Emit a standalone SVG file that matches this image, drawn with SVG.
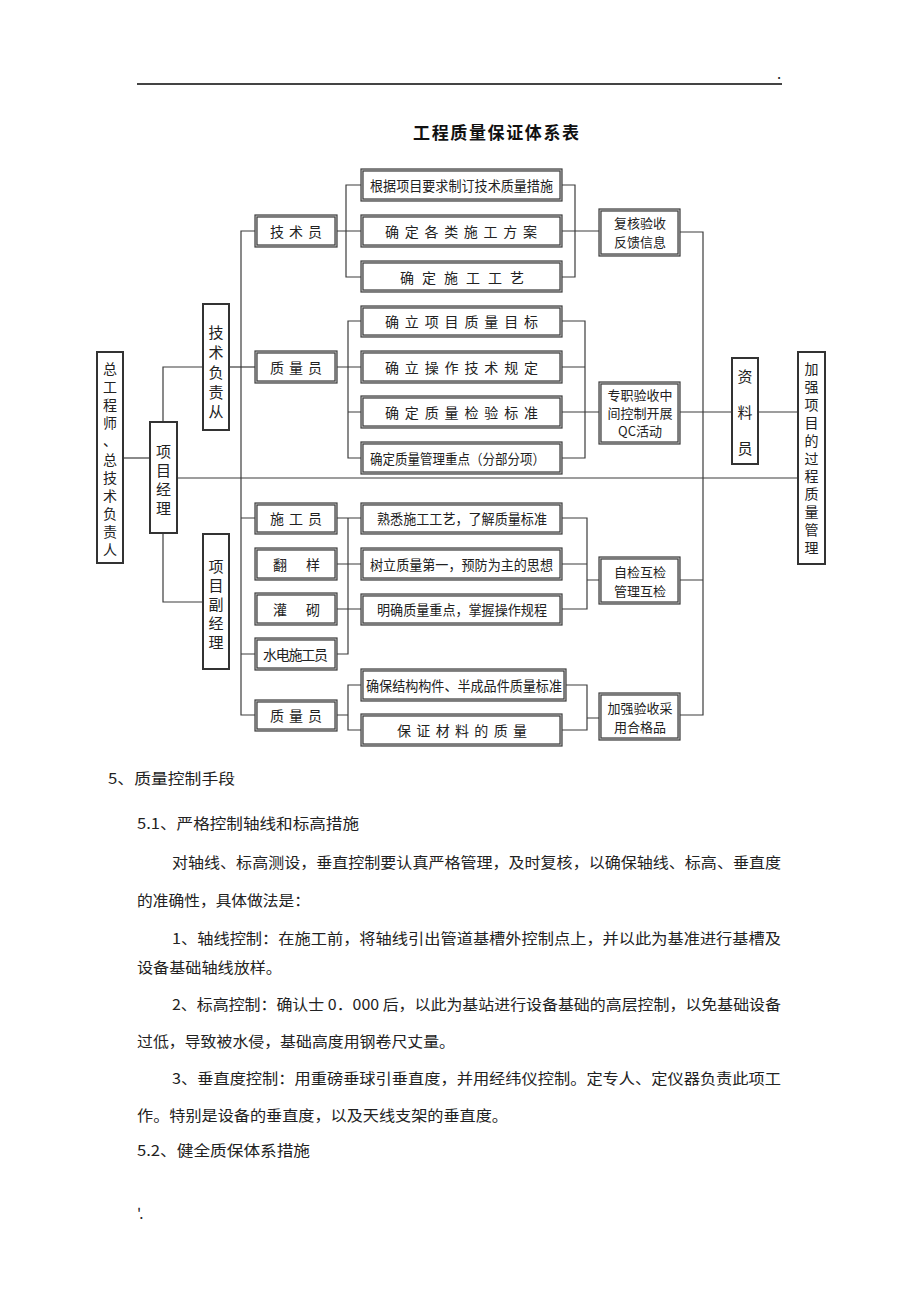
<svg xmlns="http://www.w3.org/2000/svg" width="920" height="1302" viewBox="0 0 920 1302">
<style>
.bx{fill:#fff;stroke:#3a3a3a;stroke-width:3.2}
.bi{fill:none;stroke:#c8c8c8;stroke-width:0.9}
.vb{fill:#fff;stroke:#333;stroke-width:2}
.ln{fill:none;stroke:#3c3c3c;stroke-width:1.2}
.t{font-family:"Noto Sans CJK SC","Noto Sans",sans-serif;font-size:14px;fill:#222;dominant-baseline:central}
.ts{font-family:"Noto Sans CJK SC","Noto Sans",sans-serif;font-size:13px;fill:#222;dominant-baseline:central;text-anchor:middle}
.tv{font-family:"Noto Sans CJK SC","Noto Sans",sans-serif;font-size:15px;fill:#222;dominant-baseline:central;text-anchor:middle}
.tv2{font-family:"Noto Sans CJK SC","Noto Sans",sans-serif;font-size:14px;fill:#222;dominant-baseline:central;text-anchor:middle}
.p{font-family:"Noto Sans CJK SC","Noto Sans",sans-serif;font-size:15px;fill:#222}
</style>
<rect width="920" height="1302" fill="#fff"/>
<line x1="137" y1="84" x2="782" y2="84" stroke="#444" stroke-width="1.8"/>
<text x="777" y="79" class="p" font-size="12">.</text>
<text x="496" y="131" font-family="Noto Sans CJK SC,sans-serif" font-size="17" font-weight="bold" fill="#111" text-anchor="middle" dominant-baseline="central" textLength="166" lengthAdjust="spacing">工程质量保证体系表</text>

<g id="connectors">
<path class="ln" d="M123 458H150"/>
<path class="ln" d="M163 422V367H203"/>
<path class="ln" d="M163 533V602H203"/>
<path class="ln" d="M177 478H798"/>
<path class="ln" d="M229 367H256"/>
<path class="ln" d="M256 231H241V715H256"/>
<path class="ln" d="M241 518H256M241 654H256"/>
<path class="ln" d="M336 231H362M362 185H346V277H362"/>
<path class="ln" d="M336 367H362M362 321H348V458H362M348 412H362"/>
<path class="ln" d="M336 518H362M336 564H362M336 609H362M336 654H348V518"/>
<path class="ln" d="M336 715H348M362 685H348V730H362"/>
<path class="ln" d="M561 185H575V277H561M561 231H600"/>
<path class="ln" d="M561 321H585V458H561M561 367H585M561 412H600"/>
<path class="ln" d="M561 518H587V609H561M561 564H587M587 580H600"/>
<path class="ln" d="M565 685H587V730H561M587 718H600"/>
<path class="ln" d="M679 232H703V715H679M679 412H732M679 580H703"/>
<path class="ln" d="M758 412H798"/>
</g>

<g id="n-zgcs"><rect class="vb" x="97" y="352" width="26" height="211"/>
<text class="tv2"><tspan x="110" y="368">总</tspan><tspan x="110" y="386">工</tspan><tspan x="110" y="404">程</tspan><tspan x="110" y="422">师</tspan><tspan x="110" y="440">、</tspan><tspan x="110" y="459">总</tspan><tspan x="110" y="477">技</tspan><tspan x="110" y="495">术</tspan><tspan x="110" y="513">负</tspan><tspan x="110" y="531">责</tspan><tspan x="110" y="549">人</tspan></text></g>
<g id="n-xmjl"><rect class="vb" x="150" y="422" width="27" height="111"/>
<text class="tv"><tspan x="163.5" y="450">项</tspan><tspan x="163.5" y="469">目</tspan><tspan x="163.5" y="488">经</tspan><tspan x="163.5" y="507">理</tspan></text></g>
<g id="n-jsfz"><rect class="vb" x="203" y="304" width="26" height="126"/>
<text class="tv"><tspan x="216" y="331">技</tspan><tspan x="216" y="351">术</tspan><tspan x="216" y="371">负</tspan><tspan x="216" y="391">责</tspan><tspan x="216" y="410">从</tspan></text></g>
<g id="n-xmfjl"><rect class="vb" x="203" y="534" width="26" height="135"/>
<text class="tv"><tspan x="216" y="565">项</tspan><tspan x="216" y="584">目</tspan><tspan x="216" y="603">副</tspan><tspan x="216" y="622">经</tspan><tspan x="216" y="641">理</tspan></text></g>

<g id="n-jsy"><rect class="bx" x="256" y="216" width="80" height="30"/><rect class="bi" x="256" y="216" width="80" height="30"/><text class="t" x="270" y="231" textLength="52" lengthAdjust="spacing">技术员</text></g>
<g id="n-zly1"><rect class="bx" x="256" y="352" width="80" height="30"/><rect class="bi" x="256" y="352" width="80" height="30"/><text class="t" x="270" y="367" textLength="52" lengthAdjust="spacing">质量员</text></g>
<g id="n-sgy"><rect class="bx" x="256" y="504" width="80" height="29"/><rect class="bi" x="256" y="504" width="80" height="29"/><text class="t" x="270" y="518" textLength="52" lengthAdjust="spacing">施工员</text></g>
<g id="n-fy"><rect class="bx" x="256" y="549" width="80" height="30"/><rect class="bi" x="256" y="549" width="80" height="30"/><text class="t" x="273" y="564" textLength="47" lengthAdjust="spacing">翻样</text></g>
<g id="n-gq"><rect class="bx" x="256" y="594" width="80" height="30"/><rect class="bi" x="256" y="594" width="80" height="30"/><text class="t" x="273" y="609" textLength="47" lengthAdjust="spacing">灌砌</text></g>
<g id="n-sdsgy"><rect class="bx" x="256" y="639" width="80" height="30"/><rect class="bi" x="256" y="639" width="80" height="30"/><text class="t" x="263" y="654" textLength="65" lengthAdjust="spacing">水电施工员</text></g>
<g id="n-zly2"><rect class="bx" x="256" y="701" width="80" height="29"/><rect class="bi" x="256" y="701" width="80" height="29"/><text class="t" x="270" y="715" textLength="52" lengthAdjust="spacing">质量员</text></g>

<g id="n-c1"><rect class="bx" x="362" y="170" width="199" height="30"/><rect class="bi" x="362" y="170" width="199" height="30"/><text class="t" x="370" y="185" textLength="183" lengthAdjust="spacingAndGlyphs">根据项目要求制订技术质量措施</text></g>
<g id="n-c2"><rect class="bx" x="362" y="216" width="199" height="30"/><rect class="bi" x="362" y="216" width="199" height="30"/><text class="t" x="385" y="231" textLength="152" lengthAdjust="spacing">确定各类施工方案</text></g>
<g id="n-c3"><rect class="bx" x="362" y="262" width="199" height="29"/><rect class="bi" x="362" y="262" width="199" height="29"/><text class="t" x="400" y="277" textLength="124" lengthAdjust="spacing">确定施工工艺</text></g>
<g id="n-c4"><rect class="bx" x="362" y="307" width="199" height="29"/><rect class="bi" x="362" y="307" width="199" height="29"/><text class="t" x="385" y="321" textLength="153" lengthAdjust="spacing">确立项目质量目标</text></g>
<g id="n-c5"><rect class="bx" x="362" y="352" width="199" height="30"/><rect class="bi" x="362" y="352" width="199" height="30"/><text class="t" x="385" y="367" textLength="153" lengthAdjust="spacing">确立操作技术规定</text></g>
<g id="n-c6"><rect class="bx" x="362" y="397" width="199" height="30"/><rect class="bi" x="362" y="397" width="199" height="30"/><text class="t" x="385" y="412" textLength="153" lengthAdjust="spacing">确定质量检验标准</text></g>
<g id="n-c7"><rect class="bx" x="362" y="443" width="199" height="30"/><rect class="bi" x="362" y="443" width="199" height="30"/><text class="t" x="370" y="458" textLength="175" lengthAdjust="spacingAndGlyphs">确定质量管理重点（分部分项）</text></g>
<g id="n-c8"><rect class="bx" x="362" y="504" width="199" height="29"/><rect class="bi" x="362" y="504" width="199" height="29"/><text class="t" x="377" y="518" textLength="170" lengthAdjust="spacingAndGlyphs">熟悉施工工艺，了解质量标准</text></g>
<g id="n-c9"><rect class="bx" x="362" y="549" width="199" height="30"/><rect class="bi" x="362" y="549" width="199" height="30"/><text class="t" x="370" y="564" textLength="183" lengthAdjust="spacingAndGlyphs">树立质量第一，预防为主的思想</text></g>
<g id="n-c10"><rect class="bx" x="362" y="595" width="199" height="29"/><rect class="bi" x="362" y="595" width="199" height="29"/><text class="t" x="377" y="609" textLength="170" lengthAdjust="spacingAndGlyphs">明确质量重点，掌握操作规程</text></g>
<g id="n-c11"><rect class="bx" x="362" y="670" width="203" height="30"/><rect class="bi" x="362" y="670" width="203" height="30"/><text class="t" x="366" y="685" textLength="196" lengthAdjust="spacingAndGlyphs">确保结构构件、半成品件质量标准</text></g>
<g id="n-c12"><rect class="bx" x="362" y="715" width="199" height="30"/><rect class="bi" x="362" y="715" width="199" height="30"/><text class="t" x="397" y="730" textLength="130" lengthAdjust="spacing">保证材料的质量</text></g>

<g id="n-fh"><rect class="bx" x="600" y="210" width="79" height="45"/><rect class="bi" x="600" y="210" width="79" height="45"/><text class="ts" x="640" y="222">复核验收</text><text class="ts" x="640" y="241">反馈信息</text></g>
<g id="n-zz"><rect class="bx" x="600" y="383" width="79" height="60"/><rect class="bi" x="600" y="383" width="79" height="60"/><text class="ts" x="640" y="394">专职验收中</text><text class="ts" x="640" y="412">间控制开展</text><text class="ts" x="640" y="430">QC活动</text></g>
<g id="n-zj"><rect class="bx" x="600" y="558" width="79" height="45"/><rect class="bi" x="600" y="558" width="79" height="45"/><text class="ts" x="640" y="571">自检互检</text><text class="ts" x="640" y="590">管理互检</text></g>
<g id="n-jq"><rect class="bx" x="600" y="694" width="79" height="45"/><rect class="bi" x="600" y="694" width="79" height="45"/><text class="ts" x="640" y="707">加强验收采</text><text class="ts" x="640" y="726">用合格品</text></g>

<g id="n-zly"><rect class="vb" x="732" y="358" width="26" height="106"/>
<text class="tv"><tspan x="745" y="375">资</tspan><tspan x="745" y="411">料</tspan><tspan x="745" y="447">员</tspan></text></g>
<g id="n-jqxm"><rect class="vb" x="798" y="352" width="27" height="212"/>
<text class="tv2"><tspan x="811.5" y="368">加</tspan><tspan x="811.5" y="385.9">强</tspan><tspan x="811.5" y="403.8">项</tspan><tspan x="811.5" y="421.7">目</tspan><tspan x="811.5" y="439.6">的</tspan><tspan x="811.5" y="457.5">过</tspan><tspan x="811.5" y="475.4">程</tspan><tspan x="811.5" y="493.3">质</tspan><tspan x="811.5" y="511.2">量</tspan><tspan x="811.5" y="529.1">管</tspan><tspan x="811.5" y="547">理</tspan></text></g>

<g id="body">
<text class="p" x="108" y="784" font-size="17" textLength="127" lengthAdjust="spacingAndGlyphs">5、质量控制手段</text>
<text class="p" x="137" y="829" textLength="222" lengthAdjust="spacingAndGlyphs">5.1、严格控制轴线和标高措施</text>
<text class="p" x="172" y="868" textLength="609" lengthAdjust="spacingAndGlyphs">对轴线、标高测设，垂直控制要认真严格管理，及时复核，以确保轴线、标高、垂直度</text>
<text class="p" x="137" y="906" textLength="173" lengthAdjust="spacingAndGlyphs">的准确性，具体做法是：</text>
<text class="p" x="172" y="944" textLength="609" lengthAdjust="spacingAndGlyphs">1、轴线控制：在施工前，将轴线引出管道基槽外控制点上，并以此为基准进行基槽及</text>
<text class="p" x="137" y="973" textLength="145" lengthAdjust="spacingAndGlyphs">设备基础轴线放样。</text>
<text class="p" x="172" y="1010" textLength="609" lengthAdjust="spacingAndGlyphs">2、标高控制：确认士 0．000 后，以此为基站进行设备基础的高层控制，以免基础设备</text>
<text class="p" x="137" y="1047" textLength="318" lengthAdjust="spacingAndGlyphs">过低，导致被水侵，基础高度用钢卷尺丈量。</text>
<text class="p" x="172" y="1084" textLength="609" lengthAdjust="spacingAndGlyphs">3、垂直度控制：用重磅垂球引垂直度，并用经纬仪控制。定专人、定仪器负责此项工</text>
<text class="p" x="137" y="1121" textLength="371" lengthAdjust="spacingAndGlyphs">作。特别是设备的垂直度，以及天线支架的垂直度。</text>
<text class="p" x="137" y="1156" textLength="173" lengthAdjust="spacingAndGlyphs">5.2、健全质保体系措施</text>
<text class="p" x="137" y="1219" font-size="12">'.</text>
</g>
</svg>
